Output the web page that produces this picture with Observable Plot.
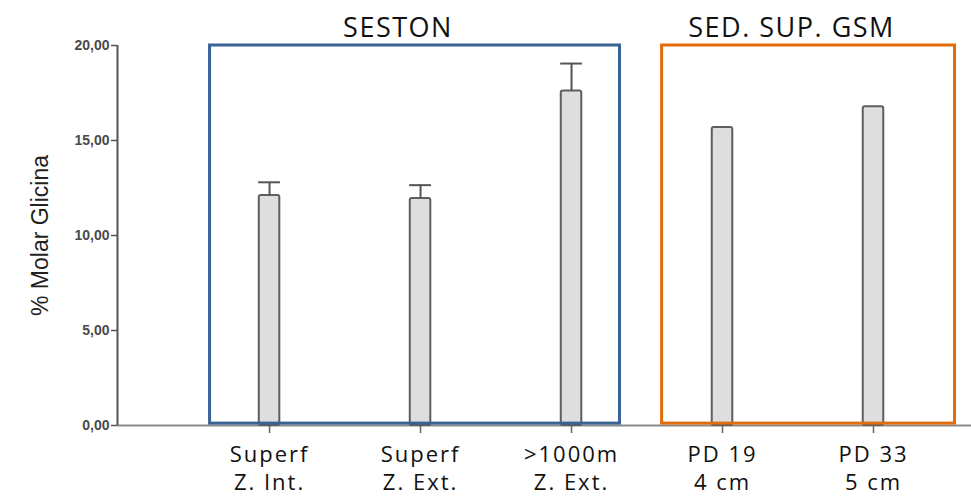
<!DOCTYPE html>
<html>
<head>
<meta charset="utf-8">
<script src="https://cdn.jsdelivr.net/npm/d3@7"></script>
<script src="https://cdn.jsdelivr.net/npm/@observablehq/plot@0.6"></script>
<style>
  html, body { margin: 0; padding: 0; background: #fff; }
</style>
</head>
<body>
<div id="chart"></div>
<script>
const categories = ["Superf\nZ. Int.", "Superf\nZ. Ext.", ">1000m\nZ. Ext.", "PD 19\n4 cm", "PD 33\n5 cm"];
const values = [12.1, 11.95, 17.6, 15.68, 16.78];
const errorTops = [12.8, 12.65, 19.05, null, null];
const groupNames = ["SESTON", "SED. SUP. GSM"];
const groupFirst = [0, 3];
const groupLast = [2, 4];
const yTicks = [0, 5, 10, 15, 20];

const bars = categories.map((c, i) => ({i, label: c, value: values[i], err: errorTops[i]}));
const errs = bars.filter(d => d.err != null);
// box paddings (styling, in category units)
const padL = [0.394, 0.40];
const padR = [0.321, 0.54];
const groupColors = ["#3a6294", "#e36c0a"];
const groups = groupNames.map((g, k) => ({
  name: g,
  x1: groupFirst[k] - padL[k],
  x2: groupLast[k] + padR[k],
  color: groupColors[k]
}));

const hw = 0.068; // half bar width in category units
const capw = 0.072;

const plot = Plot.plot({
  width: 971,
  height: 498,
  marginLeft: 117,
  marginRight: 0,
  marginTop: 45,
  marginBottom: 73,
  style: {fontFamily: "Liberation Sans, Arial, sans-serif", background: "#fff"},
  x: {domain: [-1.007, 4.649], axis: null},
  y: {domain: [0, 20], axis: null},
  marks: [
    Plot.ruleY([0], {stroke: "#8a8a8a", strokeWidth: 2}),
    Plot.ruleX([-1.007], {y1: 0, y2: 20, stroke: "#555", strokeWidth: 2}),
    Plot.axisY({
      ticks: yTicks,
      tickFormat: d => d.toFixed(2).replace(".", ","),
      tickSize: 6,
      tickPadding: 2,
      stroke: "#555",
      strokeWidth: 1.5,
      fill: "#4a4a4a",
      fontSize: 14,
      fontWeight: "bold",
      label: "% Molar Glicina",
      labelAnchor: "center",
      labelArrow: "none",
      labelOffset: 86
    }),
    Plot.axisX({
      ticks: [0, 1, 2, 3, 4],
      tickFormat: i => categories[i],
      tickSize: 8,
      tickPadding: 8,
      stroke: "#666",
      strokeWidth: 1.5,
      fill: "#111",
      fontSize: 22,
      fontFamily: "Open Sans, sans-serif",
      lineHeight: 1.3,
      label: null
    }),
    Plot.rectY(bars, {
      x1: d => d.i - hw, x2: d => d.i + hw, y1: 0, y2: "value",
      fill: "#dedede", stroke: "#5e5e5e", strokeWidth: 2, rx: 2
    }),
    Plot.ruleX(errs, {x: "i", y1: "value", y2: "err", stroke: "#555", strokeWidth: 2}),
    Plot.ruleY(errs, {y: "err", x1: d => d.i - capw, x2: d => d.i + capw, stroke: "#555", strokeWidth: 2}),
    Plot.rect(groups, {
      x1: "x1", x2: "x2", y1: 0.1, y2: 20,
      fill: "none", stroke: "color", strokeWidth: 3
    }),
    Plot.text(groups, {
      x: d => (d.x1 + d.x2) / 2, y: 20, text: "name",
      dx: -17, dy: -17, lineAnchor: "middle",
      fontSize: 27, fontFamily: "Open Sans, sans-serif", fill: "#111"
    })
  ]
});

document.getElementById("chart").appendChild(plot);
const svg = d3.select(plot);
svg.selectAll('[aria-label="x-axis tick label"] text').style("letter-spacing", "2px");
svg.selectAll('[aria-label="text"] text').style("letter-spacing", "1.5px");
svg.selectAll('[aria-label="y-axis label"] text').style("font-size", "23px").style("fill", "#222").style("font-weight", "normal");
</script>
</body>
</html>
